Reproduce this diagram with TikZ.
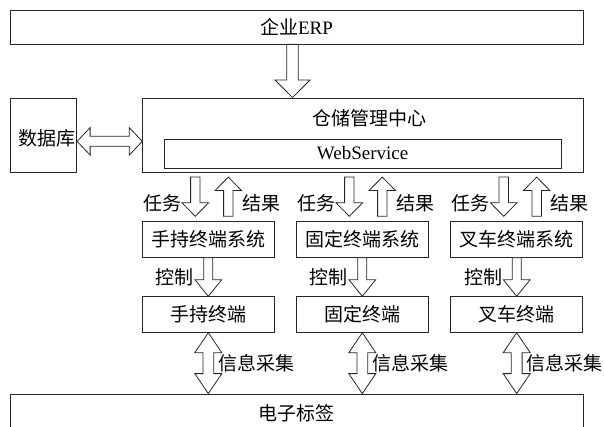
\documentclass[tikz,border=0pt]{standalone}
\usepackage{fontspec}
\setmainfont{Liberation Serif}
\newfontfamily\cjk{Noto Sans CJK SC}
\usetikzlibrary{calc}

% vertical block arrow: #1 start, #2 tip, #3 shaft half width, #4 head half width, #5 head length
\newcommand\vsingle[5]{%
 \draw[blk] let \p1=#1, \p2=#2, \n1={sign(\y1-\y2)} in
  ({\x1-#3},\y1) -- ({\x1-#3},{\y2+\n1*#5}) -- ({\x1-#4},{\y2+\n1*#5}) -- (\x1,\y2)
  -- ({\x1+#4},{\y2+\n1*#5}) -- ({\x1+#3},{\y2+\n1*#5}) -- ({\x1+#3},\y1) -- cycle;}
% vertical double block arrow
\newcommand\vdouble[5]{%
 \draw[blk] let \p1=#1, \p2=#2, \n1={sign(\y1-\y2)} in
  (\x1,\y1) -- ({\x1+#4},{\y1-\n1*#5}) -- ({\x1+#3},{\y1-\n1*#5}) -- ({\x1+#3},{\y2+\n1*#5})
  -- ({\x1+#4},{\y2+\n1*#5}) -- (\x1,\y2) -- ({\x1-#4},{\y2+\n1*#5}) -- ({\x1-#3},{\y2+\n1*#5})
  -- ({\x1-#3},{\y1-\n1*#5}) -- ({\x1-#4},{\y1-\n1*#5}) -- cycle;}
% horizontal double block arrow
\newcommand\hdouble[5]{%
 \draw[blk] let \p1=#1, \p2=#2, \n1={sign(\x1-\x2)} in
  (\x1,\y1) -- ({\x1-\n1*#5},{\y1+#4}) -- ({\x1-\n1*#5},{\y1+#3}) -- ({\x2+\n1*#5},{\y1+#3})
  -- ({\x2+\n1*#5},{\y1+#4}) -- (\x2,\y1) -- ({\x2+\n1*#5},{\y1-#4}) -- ({\x2+\n1*#5},{\y1-#3})
  -- ({\x1-\n1*#5},{\y1-#3}) -- ({\x1-\n1*#5},{\y1-#4}) -- cycle;}

\begin{document}
\begin{tikzpicture}[x=1pt,y=-1pt,
  box/.style={draw=black!85, line width=0.8pt, inner sep=0pt,
              font=\cjk\fontsize{19}{22}\selectfont},
  lbl/.style={inner sep=0pt, font=\cjk\fontsize{19}{22}\selectfont},
  blk/.style={draw=black!85, line width=0.8pt, fill=white, line join=miter}]
\useasboundingbox (0,0) rectangle (604,427);
\clip (0,0) rectangle (604,427);

% boxes
\node[box, minimum width=573pt, minimum height=34pt] (erp) at (296.5,27) {企业{\rmfamily ERP}};
\node[box, minimum width=66.7pt, minimum height=74.7pt] (db) at (43.35,135.35) {};
\node[lbl] (dbt) at (47,138) {数据库};
\node[box, minimum width=440.3pt, minimum height=74.7pt] (ware) at (362.85,135.35) {};
\node[lbl] (waret) at (369,118) {仓储管理中心};
\node[box, minimum width=396.7pt, minimum height=29pt, font=\rmfamily\fontsize{19}{22}\selectfont] (ws) at (362.65,153.5) {WebService};

\node[box, minimum width=132pt, minimum height=35.6pt] (s1) at (208.3,239.5) {手持终端系统};
\node[box, minimum width=132pt, minimum height=35.6pt] (s2) at (362.3,239.5) {固定终端系统};
\node[box, minimum width=132pt, minimum height=35.6pt] (s3) at (516.7,239.5) {叉车终端系统};

\node[box, minimum width=132pt, minimum height=35.6pt] (t1) at (208.3,314.5) {手持终端};
\node[box, minimum width=132pt, minimum height=35.6pt] (t2) at (362.3,314.5) {固定终端};
\node[box, minimum width=132pt, minimum height=35.6pt] (t3) at (516.7,314.5) {叉车终端};

\node[box, minimum width=573pt, minimum height=46pt] (tag) at (296.5,417) {};
\node[lbl] (tagt) at (296.5,413) {电子标签};

% ERP -> warehouse
\coordinate (a0) at ($(erp.south)+(-4,0)$);
\vsingle{(a0)}{(a0 |- ware.north)}{5.8pt}{17.5pt}{17.6pt}
% database <-> warehouse
\coordinate (h0) at ($(db.east)+(0,6)$);
\hdouble{(h0)}{(h0 -| ware.west)}{5pt}{13.7pt}{13pt}

\foreach \i in {1,2,3}{
  \coordinate (d\i) at ($(s\i.north)+(-13,-5)$);
  \coordinate (u\i) at ($(s\i.north)+(20,-5)$);
  \coordinate (dt\i) at ($(d\i |- ware.south)+(0,4)$);
  \coordinate (ut\i) at ($(u\i |- ware.south)+(0,4)$);
  \vsingle{(dt\i)}{(d\i)}{4.7pt}{13.3pt}{13.5pt}
  \vsingle{(u\i)}{(ut\i)}{4.7pt}{13.3pt}{13.5pt}
  \node[lbl, anchor=east] (task\i) at ($(d\i)+(-14,-13.4)$) {任务};
  \node[lbl, anchor=west] (res\i) at ($(u\i)+(14,-13.4)$) {结果};
  % control
  \vsingle{(s\i.south)}{(s\i.south |- t\i.north)}{4.5pt}{13.3pt}{16.5pt}
  \node[lbl, anchor=east] (ctl\i) at ($(s\i.south)+(-14.5,19.4)$) {控制};
  % info collection
  \vdouble{(t\i.south)}{(t\i.south |- tag.north)}{5.4pt}{13.5pt}{20pt}
  \node[lbl, anchor=west] (info\i) at ($(t\i.south)+(9.5,31)$) {信息采集};
}
\end{tikzpicture}
\end{document}
